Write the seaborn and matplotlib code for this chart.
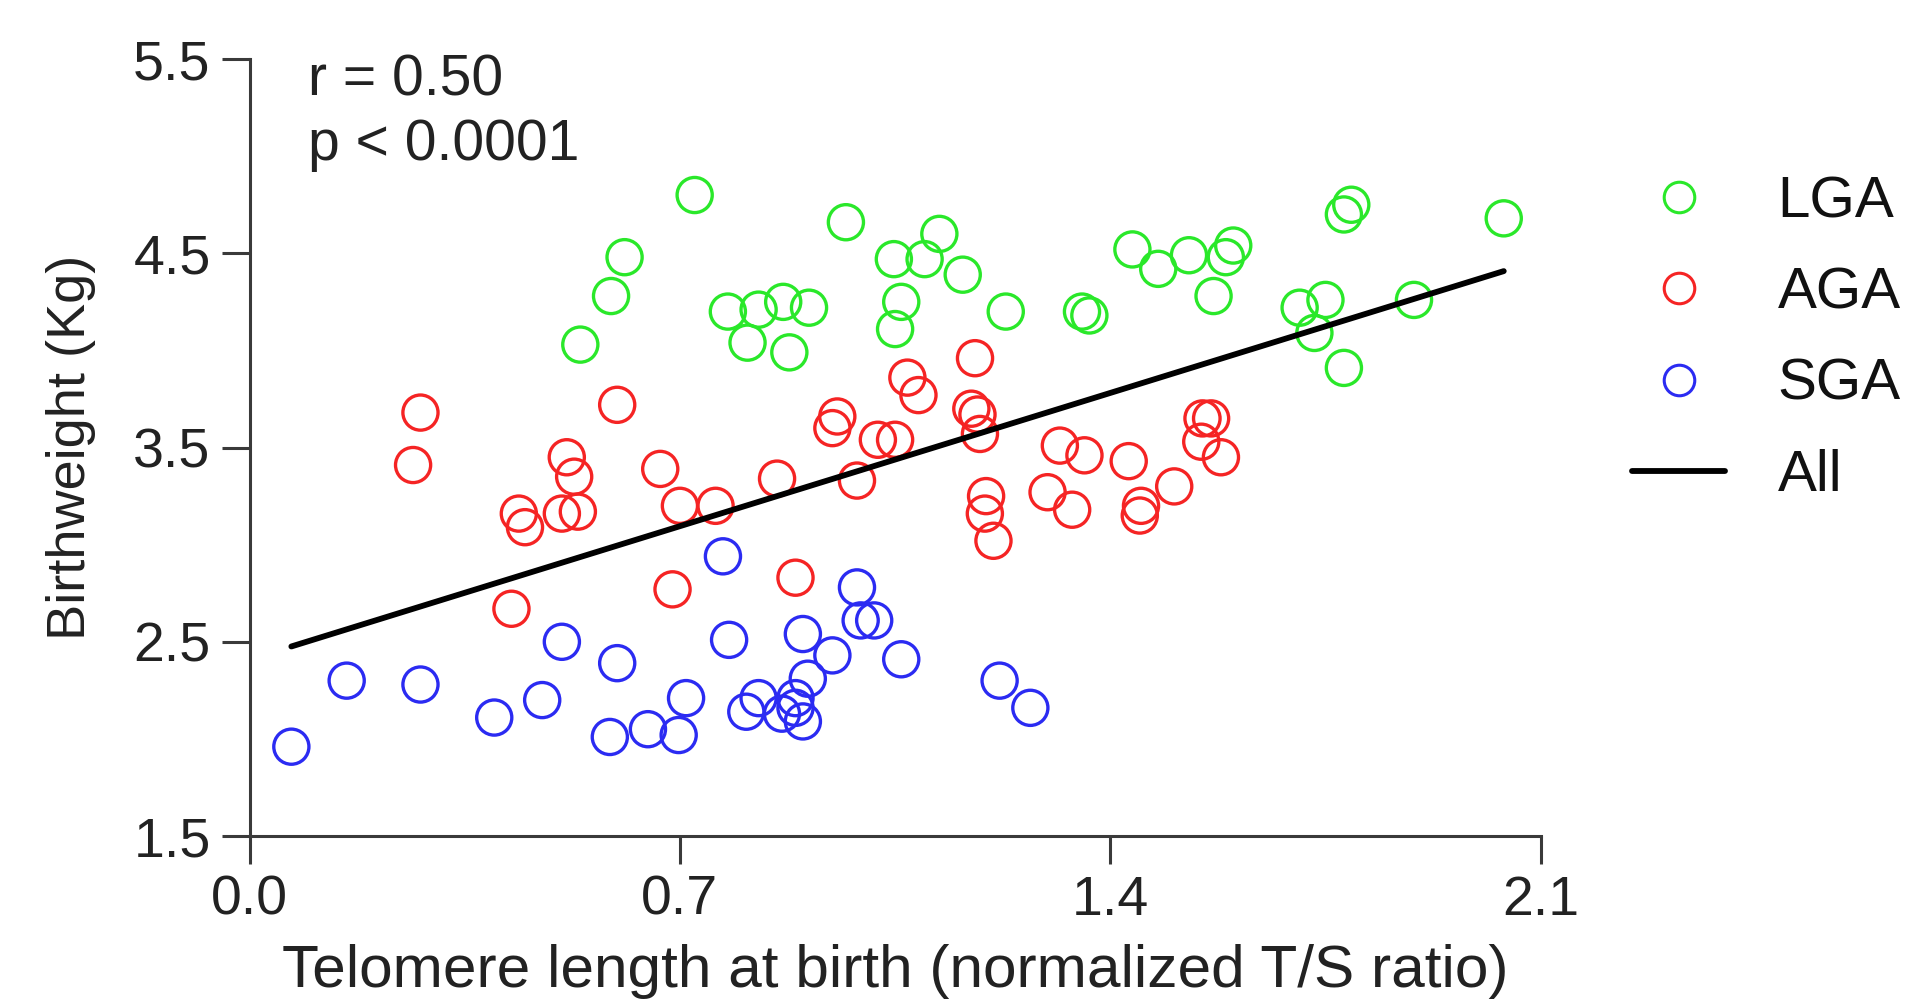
import matplotlib
matplotlib.use("Agg")
import matplotlib.pyplot as plt
from matplotlib.lines import Line2D
import seaborn as sns
import pandas as pd

# Telomere length (x) and birthweight (y) per group
lga_x = [0.724, 0.970, 0.610, 0.588, 0.538, 0.778, 0.828, 0.868, 0.910, 0.810,
         0.878, 1.048, 1.098, 1.122, 1.160, 1.060, 1.050, 1.230, 1.354, 1.366,
         1.436, 1.478, 1.528, 1.588, 1.600, 1.568, 1.708, 1.750, 1.732, 1.780,
         1.780, 1.792, 1.894, 2.040]
lga_y = [4.80, 4.66, 4.48, 4.28, 4.03, 4.20, 4.21, 4.25, 4.22, 4.04,
         3.99, 4.47, 4.47, 4.60, 4.39, 4.25, 4.11, 4.20, 4.20, 4.18,
         4.52, 4.42, 4.49, 4.48, 4.54, 4.28, 4.22, 4.26, 4.09, 3.91,
         4.70, 4.75, 4.26, 4.68]

aga_x = [0.278, 0.266, 0.438, 0.448, 0.516, 0.528, 0.508, 0.534, 0.598, 0.668,
         0.700, 0.758, 0.858, 0.426, 0.688, 0.888, 0.956, 0.948, 0.988, 1.022,
         1.050, 1.070, 1.088, 1.180, 1.174, 1.184, 1.188, 1.198, 1.196, 1.210,
         1.298, 1.318, 1.358, 1.338, 1.430, 1.450, 1.448, 1.504, 1.550, 1.564,
         1.548, 1.580]
aga_y = [3.68, 3.41, 3.16, 3.09, 3.45, 3.35, 3.16, 3.17, 3.72, 3.39,
         3.20, 3.20, 3.34, 2.67, 2.77, 2.83, 3.66, 3.60, 3.33, 3.54,
         3.54, 3.86, 3.77, 3.96, 3.70, 3.67, 3.57, 3.25, 3.16, 3.02,
         3.27, 3.51, 3.46, 3.18, 3.43, 3.20, 3.15, 3.30, 3.65, 3.65,
         3.53, 3.45]

sga_x = [0.068, 0.158, 0.278, 0.398, 0.476, 0.508, 0.598, 0.586, 0.648, 0.698,
         0.710, 0.770, 0.780, 0.808, 0.828, 0.866, 0.888, 0.888, 0.900, 0.908,
         0.900, 0.948, 0.988, 0.994, 1.016, 1.060, 1.220, 1.270]
sga_y = [1.96, 2.30, 2.28, 2.11, 2.20, 2.50, 2.39, 2.01, 2.05, 2.02,
         2.21, 2.94, 2.51, 2.14, 2.21, 2.13, 2.21, 2.16, 2.09, 2.31,
         2.54, 2.43, 2.78, 2.61, 2.61, 2.41, 2.30, 2.16]

groups = ["LGA", "AGA", "SGA"]
colors = {"LGA": "#2ae82a", "AGA": "#f52424", "SGA": "#2b2bf2"}

df = pd.concat([
    pd.DataFrame({"tl": lga_x, "bw": lga_y, "group": "LGA"}),
    pd.DataFrame({"tl": aga_x, "bw": aga_y, "group": "AGA"}),
    pd.DataFrame({"tl": sga_x, "bw": sga_y, "group": "SGA"}),
], ignore_index=True)

sns.set_style("ticks")
plt.rcParams["font.family"] = ["Liberation Sans", "DejaVu Sans"]

fig = plt.figure(figsize=(19.27, 10.01), dpi=100)
ax = fig.add_axes([0.1295, 0.1648, 0.6700, 0.7762])

# hollow circles per group
for g in groups:
    sub = df[df["group"] == g]
    sns.scatterplot(data=sub, x="tl", y="bw", ax=ax, s=640, marker="o",
                    facecolor="none", edgecolor=colors[g], linewidth=2.4,
                    legend=False, zorder=3)

# regression line over all points
sns.regplot(data=df, x="tl", y="bw", ax=ax, scatter=False, ci=None,
            truncate=True, color="black", line_kws={"linewidth": 4.2, "zorder": 4})

ax.set_xlim(0, 2.1)
ax.set_ylim(1.5, 5.5)
ax.set_xticks([0.0, 0.7, 1.4, 2.1])
ax.set_yticks([1.5, 2.5, 3.5, 4.5, 5.5])
ax.set_xticklabels(["0.0", "0.7", "1.4", "2.1"])
ax.set_yticklabels(["1.5", "2.5", "3.5", "4.5", "5.5"])

for side in ["top", "right"]:
    ax.spines[side].set_visible(False)
for side in ["left", "bottom"]:
    ax.spines[side].set_linewidth(2.2)
    ax.spines[side].set_color("#3a3a3a")
ax.tick_params(axis="both", length=20, width=2.2, color="#3a3a3a",
               labelsize=40, labelcolor="#222222", pad=8)

ax.set_xlabel("Telomere length at birth (normalized T/S ratio)", fontsize=43.5,
              color="#222222", labelpad=12)
ax.set_ylabel("Birthweight (Kg)", fontsize=39, color="#222222", labelpad=27)

ax.text(0.045, 0.972, "r = 0.50", transform=ax.transAxes, fontsize=41,
        color="#222222", va="center", ha="left")
ax.text(0.045, 0.890, "p < 0.0001", transform=ax.transAxes, fontsize=41,
        color="#222222", va="center", ha="left")

handles = [Line2D([], [], linestyle="none", marker="o", markersize=22,
                  markerfacecolor="none", markeredgecolor=colors[g],
                  markeredgewidth=2.2) for g in groups]
handles.append(Line2D([], [], color="black", linewidth=4.2))
ax.legend(handles, groups + ["All"], loc="upper left",
          bbox_to_anchor=(1.03, 0.918), frameon=False, fontsize=42,
          handlelength=1.6, handletextpad=0.9, labelspacing=0.64,
          labelcolor="#111111")

fig.savefig("out.png", dpi=100)
